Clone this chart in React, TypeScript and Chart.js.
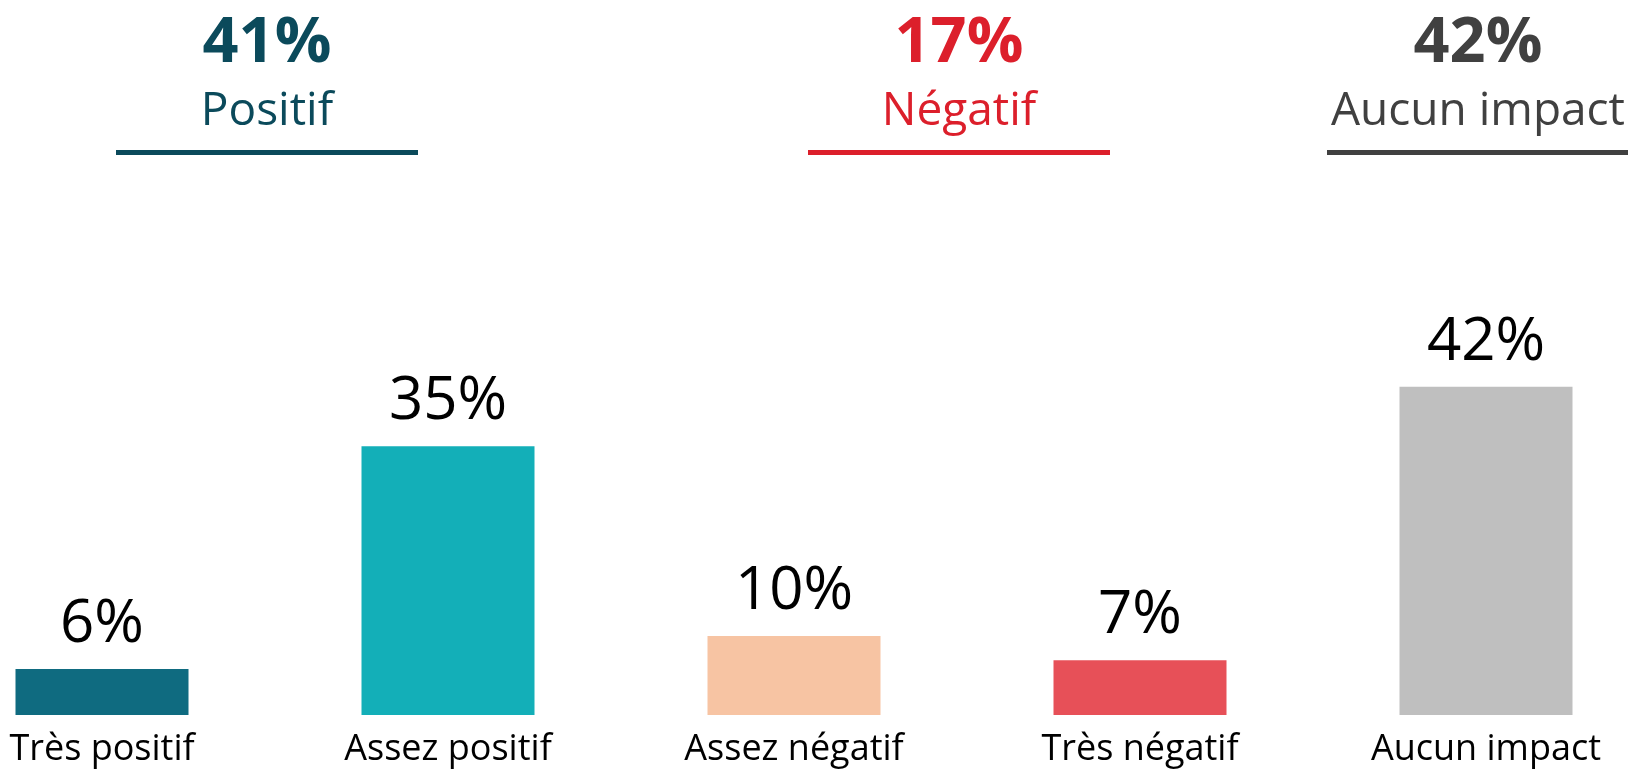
import React, { useEffect, useRef } from "react";
import { Chart, registerables } from "chart.js";

Chart.register(...registerables);

const categories = ["Très positif", "Assez positif", "Assez négatif", "Très négatif", "Aucun impact"];
// bar heights (unrounded), and the rounded labels shown above them
const values = [5.9, 34.4, 10.1, 7.0, 42.0];
const valueLabels = ["6%", "35%", "10%", "7%", "42%"];
const barColors = ["#0F6B80", "#13AFB8", "#F7C4A3", "#E75058", "#BFBFBF"];

const groupNames = ["Positif", "Négatif", "Aucun impact"];
const groupTotals = ["41%", "17%", "42%"];
const groupMembers = [[0, 1], [2, 3], [4]];
const groupColors = ["#0B4A5B", "#DC1F2B", "#404040"];

const FONT = "'Open Sans', 'Noto Sans', sans-serif";

const valueLabelPlugin = {
  id: "valueLabels",
  afterDatasetsDraw(chart: any) {
    const ctx = chart.ctx;
    const meta = chart.getDatasetMeta(0);
    ctx.save();
    ctx.font = `400 60px ${FONT}`;
    ctx.fillStyle = "#000000";
    ctx.textAlign = "center";
    ctx.textBaseline = "alphabetic";
    meta.data.forEach((el: any, i: number) => {
      ctx.fillText(valueLabels[i], el.x, el.y - 27);
    });
    ctx.restore();
  },
};

const headerPlugin = {
  id: "groupHeaders",
  afterDraw(chart: any) {
    const ctx = chart.ctx;
    const meta = chart.getDatasetMeta(0);
    ctx.save();
    ctx.textAlign = "center";
    ctx.textBaseline = "alphabetic";
    groupMembers.forEach((members, g) => {
      const xs = members.map((m) => meta.data[m].x);
      const cx = (Math.min(...xs) + Math.max(...xs)) / 2 - 8;
      ctx.fillStyle = groupColors[g];
      ctx.font = `700 63px ${FONT}`;
      ctx.fillText(groupTotals[g], cx, 62);
      ctx.font = `400 46px ${FONT}`;
      ctx.fillText(groupNames[g], cx, 125);
      ctx.fillRect(cx - 151, 150, 302, 5);
    });
    ctx.restore();
  },
};

export default function App() {
  const canvasRef = useRef<HTMLCanvasElement | null>(null);

  useEffect(() => {
    document.body.style.margin = "0";
    const canvas = canvasRef.current;
    if (!canvas) return;
    const chart = new Chart(canvas, {
      type: "bar",
      data: {
        labels: categories,
        datasets: [
          {
            data: values,
            backgroundColor: barColors,
            borderWidth: 0,
            categoryPercentage: 1,
            barPercentage: 0.5,
            clip: false as any,
          },
        ],
      },
      options: {
        animation: false,
        responsive: false,
        devicePixelRatio: 1,
        layout: { padding: { left: 102, right: 142, top: 168, bottom: 0 } },
        plugins: {
          legend: { display: false },
          tooltip: { enabled: false },
          title: { display: false },
        },
        scales: {
          x: {
            offset: false,
            grid: { display: false, drawTicks: false },
            border: { display: false },
            ticks: {
              color: "#000000",
              font: { family: FONT, size: 36, weight: "400" as any },
              padding: 13,
              autoSkip: false,
              maxRotation: 0,
              minRotation: 0,
            },
            afterFit: (scale: any) => {
              scale.height = 54;
              scale.paddingLeft = 0;
              scale.paddingRight = 0;
            },
          },
          y: {
            display: false,
            min: 0,
            max: 70,
            grid: { display: false },
          },
        },
      },
      plugins: [valueLabelPlugin, headerPlugin],
    });
    return () => chart.destroy();
  }, []);

  return (
    <div style={{ width: 1628, height: 769, background: "#ffffff" }}>
      <canvas ref={canvasRef} width={1628} height={769} style={{ display: "block", width: 1628, height: 769 }} />
    </div>
  );
}
